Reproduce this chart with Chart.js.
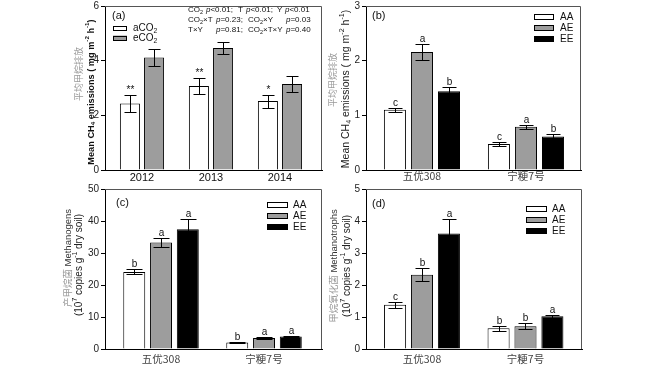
<!DOCTYPE html>
<html>
<head>
<meta charset="utf-8">
<script src="https://cdn.jsdelivr.net/npm/chart.js@4.4.0/dist/chart.umd.min.js"></script>
<style>
html, body { margin: 0; padding: 0; background: #fff; }
#wrap { position: relative; width: 661px; height: 371px; overflow: hidden; }
#wrap canvas { position: absolute; left: 0; top: 0; }
</style>
</head>
<body>
<div id="wrap">
  <canvas id="chartA" width="661" height="371"></canvas>
  <canvas id="chartB" width="661" height="371"></canvas>
  <canvas id="chartC" width="661" height="371"></canvas>
  <canvas id="chartD" width="661" height="371"></canvas>
</div>
<script>
// (a) mean CH4 emissions by year
var yearLabels = ['2012', '2013', '2014'];
var aCO2 = [2.43, 3.07, 2.52];
var aCO2Err = [0.30, 0.28, 0.24];
var aCO2Sig = ['**', '**', '*'];
var eCO2 = [4.12, 4.46, 3.15];
var eCO2Err = [0.30, 0.21, 0.30];
var emisYearTicks = [0, 2, 4, 6];

// (b)-(d) cultivars
var cultivars = ['五优308', '宁粳7号'];
var treatments = ['AA', 'AE', 'EE'];

var emisAA = [1.10, 0.476];
var emisAAErr = [0.04, 0.035];
var emisAE = [2.16, 0.79];
var emisAEErr = [0.15, 0.04];
var emisEE = [1.44, 0.615];
var emisEEErr = [0.08, 0.045];
var emisLetters = [['c', 'c'], ['a', 'a'], ['b', 'b']];
var emisTicks = [0, 1, 2, 3];

var genAA = [24.1, 2.0];
var genAAErr = [0.8, 0.2];
var genAE = [33.3, 3.4];
var genAEErr = [1.5, 0.3];
var genEE = [37.4, 3.9];
var genEEErr = [3.1, 0.3];
var genLetters = [['b', 'b'], ['a', 'a'], ['a', 'a']];
var genTicks = [0, 10, 20, 30, 40, 50];

var trophAA = [1.38, 0.65];
var trophAAErr = [0.10, 0.08];
var trophAE = [2.32, 0.71];
var trophAEErr = [0.20, 0.09];
var trophEE = [3.61, 1.02];
var trophEEErr = [0.44, 0.04];
var trophLetters = [['c', 'b'], ['b', 'b'], ['a', 'a']];
var trophTicks = [0, 1, 2, 3, 4, 5];

var FAM = "'Liberation Sans', Arial, 'Noto Sans CJK SC', sans-serif";
var CJK = "'Noto Sans CJK SC', sans-serif";
var WHITE = '#ffffff', GREY = '#9d9d9d', BLACK = '#000000';

var SUB = { '₂': '2', '₄': '4' };
var SUP = { '⁻': '-', '¹': '1', '²': '2', '⁷': '7' };

// split a string into runs: unicode sub/sup digits, % toggles italic, ~ toggles grey
function parse(str) {
  var runs = [], it = false, gray = false;
  for (var ch of str) {
    if (ch === '%') { it = !it; continue; }
    if (ch === '~') { gray = !gray; continue; }
    var kind = SUB[ch] ? 'sub' : (SUP[ch] ? 'sup' : '');
    var t = SUB[ch] || SUP[ch] || ch;
    var last = runs[runs.length - 1];
    if (last && last.kind === kind && last.it === it && last.gray === gray) last.t += t;
    else runs.push({ t: t, kind: kind, it: it, gray: gray });
  }
  return runs;
}

function drawRich(ctx, str, x, y, o) {
  var size = o.size || 10;
  var runs = parse(str);
  var fontOf = function (r) {
    return (r.it ? 'italic ' : '') + (o.bold ? 'bold ' : '') + (r.kind ? size * 0.68 : size) + 'px ' + FAM;
  };
  var total = 0;
  runs.forEach(function (r) { ctx.font = fontOf(r); r.w = ctx.measureText(r.t).width; total += r.w; });
  ctx.save();
  ctx.translate(x, y);
  if (o.rot) ctx.rotate(-Math.PI / 2);
  var cx = o.align === 'center' ? -total / 2 : (o.align === 'right' ? -total : 0);
  ctx.textBaseline = 'middle';
  ctx.textAlign = 'left';
  runs.forEach(function (r) {
    ctx.font = fontOf(r);
    ctx.fillStyle = r.gray ? '#9a9a9a' : (o.color || '#111');
    var dy = r.kind === 'sub' ? size * 0.3 : (r.kind === 'sup' ? -size * 0.38 : 0);
    ctx.fillText(r.t, cx, dy);
    cx += r.w;
  });
  ctx.restore();
}

function decor(p) {
  return {
    id: 'decor',
    afterDraw: function (chart) {
      var ctx = chart.ctx, a = chart.chartArea, ys = chart.scales.y;
      ctx.save();
      // frame top + right
      ctx.strokeStyle = '#555';
      ctx.lineWidth = 1;
      ctx.beginPath();
      ctx.moveTo(a.left, a.top + 0.5);
      ctx.lineTo(a.right - 0.5, a.top + 0.5);
      ctx.lineTo(a.right - 0.5, a.bottom);
      ctx.stroke();

      // error bars and letters
      chart.data.datasets.forEach(function (ds, i) {
        chart.getDatasetMeta(i).data.forEach(function (bar, j) {
          var v = ds.data[j].y, e = ds.errs[j];
          var x = Math.round(bar.x) + 0.5;
          var yt = Math.round(ys.getPixelForValue(v + e)) + 0.5;
          var yb = Math.round(ys.getPixelForValue(v - e)) + 0.5;
          ctx.strokeStyle = '#000';
          ctx.beginPath();
          ctx.moveTo(x, yt); ctx.lineTo(x, yb);
          ctx.moveTo(x - p.cap, yt); ctx.lineTo(x + p.cap, yt);
          ctx.moveTo(x - p.cap, yb); ctx.lineTo(x + p.cap, yb);
          ctx.stroke();
          if (ds.marks && ds.marks[j]) {
            ctx.fillStyle = '#111';
            ctx.font = '10px ' + FAM;
            ctx.textAlign = 'center';
            ctx.textBaseline = 'alphabetic';
            ctx.fillText(ds.marks[j], x, yt - 3);
          }
        });
      });

      // legend
      var L = p.legend;
      chart.data.datasets.forEach(function (ds, k) {
        var cy = L.y + k * L.dy;
        ctx.fillStyle = ds.backgroundColor;
        ctx.fillRect(L.x, cy - L.h / 2, L.w, L.h);
        ctx.strokeStyle = '#000';
        ctx.strokeRect(L.x + 0.5, Math.round(cy - L.h / 2) + 0.5, L.w - 1, L.h - 1);
        drawRich(ctx, ds.label, L.tx, cy, { size: L.size, color: '#111' });
      });

      // texts
      p.texts.forEach(function (t) {
        drawRich(ctx, t.s, t.x, t.y, t);
      });
      ctx.restore();
    }
  };
}

function panel(id, p) {
  var W = 661, H = 371, YW = 22, XH = 20;
  var datasets = p.series.map(function (s) {
    return {
      label: s.label,
      data: s.values.map(function (v, i) { return { x: i, y: v }; }),
      errs: s.errs,
      marks: s.marks,
      backgroundColor: s.fill,
      borderColor: '#000',
      borderWidth: 1,
      categoryPercentage: p.catPct,
      barPercentage: p.barPct
    };
  });
  new Chart(document.getElementById(id), {
    type: 'bar',
    data: { datasets: datasets },
    options: {
      responsive: false,
      animation: false,
      events: [],
      layout: { padding: { left: p.area[0] - YW, top: p.area[1], right: W - p.area[2], bottom: H - p.area[3] - XH } },
      plugins: { legend: { display: false }, tooltip: { enabled: false } },
      scales: {
        x: {
          type: 'linear', min: p.xMin, max: p.xMax, offset: false,
          grid: { display: false, drawTicks: false },
          border: { display: true, color: '#000', width: 1 },
          afterBuildTicks: function (s) { s.ticks = p.cats.map(function (c, i) { return { value: i }; }); },
          afterFit: function (s) { s.height = XH; },
          ticks: {
            callback: function (v) { return p.cats[v]; },
            font: { family: p.catFont, size: p.catSize },
            color: p.catColor, padding: p.catPad, maxRotation: 0, autoSkip: false
          }
        },
        y: {
          min: 0, max: p.yTicks[p.yTicks.length - 1],
          afterBuildTicks: function (s) { s.ticks = p.yTicks.map(function (v) { return { value: v }; }); },
          afterFit: function (s) { s.width = YW; },
          grid: { drawOnChartArea: false, drawTicks: true, tickLength: 4, color: '#000' },
          border: { color: '#000', width: 1 },
          ticks: { font: { family: FAM, size: 10, lineHeight: 0.8 }, color: '#222', padding: 2 }
        }
      }
    },
    plugins: [decor(p)]
  });
}

panel('chartA', {
  area: [105, 4, 322, 170], xMin: -0.536, xMax: 2.609,
  catPct: 0.70, barPct: 0.83, cap: 6,
  cats: yearLabels, catFont: FAM, catSize: 11, catColor: '#111', catPad: 1,
  yTicks: emisYearTicks,
  series: [
    { label: 'aCO₂', values: aCO2, errs: aCO2Err, marks: aCO2Sig, fill: WHITE },
    { label: 'eCO₂', values: eCO2, errs: eCO2Err, fill: GREY }
  ],
  legend: { x: 113, y: 28, dy: 10, w: 14, h: 5, tx: 133, size: 10 },
  texts: [
    { s: '(a)', x: 112, y: 16, size: 11 },
    { s: 'CO₂', x: 188, y: 10, size: 8 },
    { s: '%p%<0.01;', x: 206, y: 10, size: 8 },
    { s: 'T', x: 238, y: 10, size: 8 },
    { s: '%p%<0.01;', x: 246, y: 10, size: 8 },
    { s: 'Y', x: 277, y: 10, size: 8 },
    { s: '%p%<0.01', x: 285, y: 10, size: 8 },
    { s: 'CO₂×T', x: 188, y: 20, size: 8 },
    { s: '%p%=0.23;', x: 216, y: 20, size: 8 },
    { s: 'CO₂×Y', x: 248, y: 20, size: 8 },
    { s: '%p%=0.03', x: 286, y: 20, size: 8 },
    { s: 'T×Y', x: 188, y: 30, size: 8 },
    { s: '%p%=0.81;', x: 216, y: 30, size: 8 },
    { s: 'CO₂×T×Y', x: 248, y: 30, size: 8 },
    { s: '%p%=0.40', x: 286, y: 30, size: 8 },
    { s: '~平均甲烷排放~', x: 80, y: 74, size: 9, rot: true, align: 'center' },
    { s: 'Mean CH₄ emissions ( mg m⁻² h⁻¹)', x: 91, y: 92, size: 9.2, bold: true, rot: true, align: 'center' }
  ]
});

panel('chartB', {
  area: [366, 4, 581, 170], xMin: -0.538, xMax: 1.529,
  catPct: 0.78, barPct: 0.815, cap: 7,
  cats: cultivars, catFont: CJK, catSize: 10.5, catColor: '#444', catPad: 0,
  yTicks: emisTicks,
  series: [
    { label: treatments[0], values: emisAA, errs: emisAAErr, marks: emisLetters[0], fill: WHITE },
    { label: treatments[1], values: emisAE, errs: emisAEErr, marks: emisLetters[1], fill: GREY },
    { label: treatments[2], values: emisEE, errs: emisEEErr, marks: emisLetters[2], fill: BLACK }
  ],
  legend: { x: 534, y: 17, dy: 11, w: 20, h: 6, tx: 560, size: 10 },
  texts: [
    { s: '(b)', x: 372, y: 16, size: 11 },
    { s: '~平均甲烷排放~', x: 334, y: 80, size: 9, rot: true, align: 'center' },
    { s: 'Mean CH₄ emissions ( mg m⁻² h⁻¹)', x: 346, y: 89, size: 10.5, color: '#222', rot: true, align: 'center' }
  ]
});

panel('chartC', {
  area: [105, 189, 322, 349], xMin: -0.544, xMax: 1.563,
  catPct: 0.78, barPct: 0.82, cap: 8,
  cats: cultivars, catFont: CJK, catSize: 10.5, catColor: '#444', catPad: 4,
  yTicks: genTicks,
  series: [
    { label: treatments[0], values: genAA, errs: genAAErr, marks: genLetters[0], fill: WHITE },
    { label: treatments[1], values: genAE, errs: genAEErr, marks: genLetters[1], fill: GREY },
    { label: treatments[2], values: genEE, errs: genEEErr, marks: genLetters[2], fill: BLACK }
  ],
  legend: { x: 267, y: 205, dy: 11, w: 21, h: 6, tx: 293, size: 10 },
  texts: [
    { s: '(c)', x: 116, y: 203, size: 11 },
    { s: '~产甲烷菌~ Methanogens', x: 68, y: 258, size: 9.5, color: '#333', rot: true, align: 'center' },
    { s: '(10⁷ copies g⁻¹ dry soil)', x: 79, y: 265, size: 10, color: '#222', rot: true, align: 'center' }
  ]
});

panel('chartD', {
  area: [366, 189, 582, 349], xMin: -0.541, xMax: 1.546,
  catPct: 0.78, barPct: 0.82, cap: 7,
  cats: cultivars, catFont: CJK, catSize: 10.5, catColor: '#444', catPad: 4,
  yTicks: trophTicks,
  series: [
    { label: treatments[0], values: trophAA, errs: trophAAErr, marks: trophLetters[0], fill: WHITE },
    { label: treatments[1], values: trophAE, errs: trophAEErr, marks: trophLetters[1], fill: GREY },
    { label: treatments[2], values: trophEE, errs: trophEEErr, marks: trophLetters[2], fill: BLACK }
  ],
  legend: { x: 526, y: 209, dy: 11, w: 21, h: 6, tx: 552, size: 10 },
  texts: [
    { s: '(d)', x: 372, y: 204, size: 11 },
    { s: '~甲烷氧化菌~ Methanotrophs', x: 334, y: 266, size: 9.5, color: '#333', rot: true, align: 'center' },
    { s: '(10⁷ copies g⁻¹ dry soil)', x: 347, y: 266, size: 10, color: '#222', rot: true, align: 'center' }
  ]
});
</script>
</body>
</html>
